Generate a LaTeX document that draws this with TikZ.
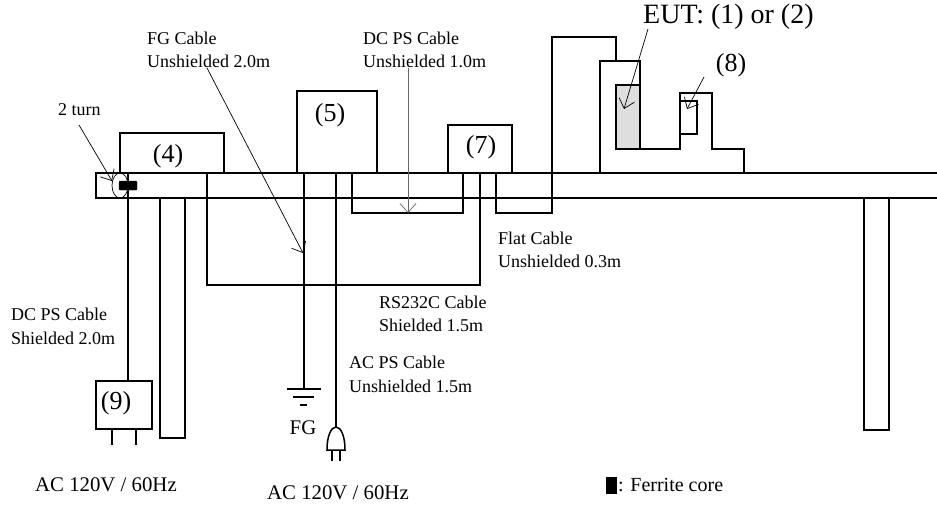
\documentclass[tikz,border=0pt]{standalone}
\usepackage{fontspec}
\setmainfont{Liberation Serif}
\usepackage{tikz}
\usetikzlibrary{arrows.meta,positioning,calc}

\tikzset{
	cable/.style={line width=1.5pt},
	pointer/.style={line width=0.7pt,-{Straight Barb[length=9pt,width=16pt,line width=0.7pt]}},
	unit/.style={draw, line width=1.5pt, inner sep=0pt, outer sep=0pt, anchor=north west},
	tag/.style={inner sep=0pt, font=\fontsize{26}{28}\selectfont},
	note/.style={inner sep=0pt, align=left, anchor=west, font=\fontsize{18}{23.5}\selectfont},
	wide/.style={inner sep=0pt, anchor=west, font=\fontsize{20.8}{24}\selectfont},
}

\begin{document}
\begin{tikzpicture}[x=1pt,y=-1pt]
		\useasboundingbox (0,0) rectangle (937,506);

		% table
		\coordinate (tl) at (96,173);
		\coordinate (tr) at (937,173);
		\coordinate (bl) at (96,198);
		\coordinate (br) at (937,198);
		\draw[cable] (tr) -- (tl) -- (bl) -- (br);
		\node[unit, minimum width=25pt, minimum height=240pt] (leg1) at (160,198) {};
		\node[unit, minimum width=25pt, minimum height=232pt] (leg2) at (864,198) {};

		% units
		\node[unit, minimum width=104pt, minimum height=40pt] (u4) at (120,133) {};
		\node[tag] (t4) at (168,156) {(4)};
		\node[unit, minimum width=80pt, minimum height=82pt] (u5) at (297,91) {};
		\node[tag] (t5) at (330,115) {(5)};
		\node[unit, minimum width=64pt, minimum height=48pt] (u7) at (448,125) {};
		\node[tag] (t7) at (481,147) {(7)};
		\node[unit, minimum width=56pt, minimum height=48pt] (u9) at (96,381) {};
		\node[tag] (t9) at (116,403) {(9)};

		% EUT and stand
		\draw[cable] (600,173) -- (600,61) -- (640,61) -- (640,149) -- (680,149) -- (680,93) -- (712,93) -- (712,149) -- (744,149) -- (744,173);
		\node[unit, fill=black!13, minimum width=24pt, minimum height=64pt] (eut) at (616,85) {};
		\node[unit, minimum width=17pt, minimum height=33pt] (u8) at (680,101) {};
		\node[tag] (t8) at (731,65) {(8)};
		\node[tag, anchor=west, font=\fontsize{28}{30}\selectfont] (teut) at (643,17) {EUT: (1) or (2)};

		% cable ends
		\coordinate (dc4) at (128,173);
		\coordinate (dc9) at (u9.north -| dc4);
		\coordinate (rs4) at (207,173);
		\coordinate (rs7) at (480,173);
		\coordinate (fg5) at (304,173);
		\coordinate (ac5) at (336,173);
		\coordinate (dc5) at (352,173);
		\coordinate (dc7) at (463,173);
		\coordinate (fl7) at (496,173);
		\coordinate (fl1) at (616,61);
		\coordinate (gnd) at (304,389);
		\coordinate (plug) at (336,427);
		\coordinate (pin1) at (112,445);
		\coordinate (pin2) at (136,445);

		% cables
		\draw[cable] (dc4) -- (dc9);
		\draw[cable] (pin1) -- (pin1 |- u9.south);
		\draw[cable] (pin2) -- (pin2 |- u9.south);
		\draw[cable] (rs4) -- (207,285) -- (480,285) -- (rs7);
		\draw[cable] (fg5) -- (gnd);
		\draw[cable] (ac5) -- (plug);
		\draw[cable] (dc5) -- (352,213) -- (463,213) -- (dc7);
		\draw[cable] (fl7) -- (496,213) -- (552,213) -- (552,37) -- (616,37) -- (fl1);

		% ground
		\draw[cable] (287,389) -- (321,389);
		\draw[cable] (293,397) -- (314,397);
		\draw[cable] (300,405) -- (307,405);
		\node[wide, anchor=center] (fg) at (303,428) {FG};

		% plug
		\draw[cable] (327,450) .. controls (327,436) and (331,427) .. (plug) .. controls (341,427) and (345,436) .. (345,450) -- cycle;
		\draw[cable] (332,450) -- (332,461);
		\draw[cable] (340,450) -- (340,461);

		% ferrite
		\draw[fill=black, rounded corners=1pt] (119,181) rectangle (137,190);
		\draw[line width=0.7pt] (120,185.5) ellipse (8pt and 12.5pt);
		\draw[fill=black] (606,477) rectangle (616,493);

		% pointers
		\coordinate (p1) at (79,125);
		\coordinate (p2) at (207,68);
		\coordinate (p3) at (408,68);
		\coordinate (p4) at (648,29);
		\coordinate (p5) at (704,77);
		\draw[pointer] (p1) -- (112,181);
		\draw[pointer] (p2) -- (303,253);
		\draw[pointer, black!60] (p3) -- (408,213);
		\draw[pointer] (p4) -- (624,109);
		\draw[pointer] (p5) -- (687,109);

		% labels
		\node[note] (lturn) at (58,110) {2 turn};
		\node[note] (lfg) at (147,50) {FG Cable\\Unshielded 2.0m};
		\node[note] (ldc) at (363,50) {DC PS Cable\\Unshielded 1.0m};
		\node[note] (lflat) at (498,250) {Flat Cable\\Unshielded 0.3m};
		\node[note] (lrs) at (379,314) {RS232C Cable\\Shielded 1.5m};
		\node[note] (lac) at (349,374.5) {AC PS Cable\\Unshielded 1.5m};
		\node[note] (ldcs) at (11,326.5) {DC PS Cable\\Shielded 2.0m};
		\node[wide] (lv1) at (35,485) {AC 120V / 60Hz};
		\node[wide] (lv2) at (267,493) {AC 120V / 60Hz};
		\node[wide, font=\fontsize{20}{24}\selectfont] (lcore) at (618,485) {: Ferrite core};
	\end{tikzpicture}
\end{document}
